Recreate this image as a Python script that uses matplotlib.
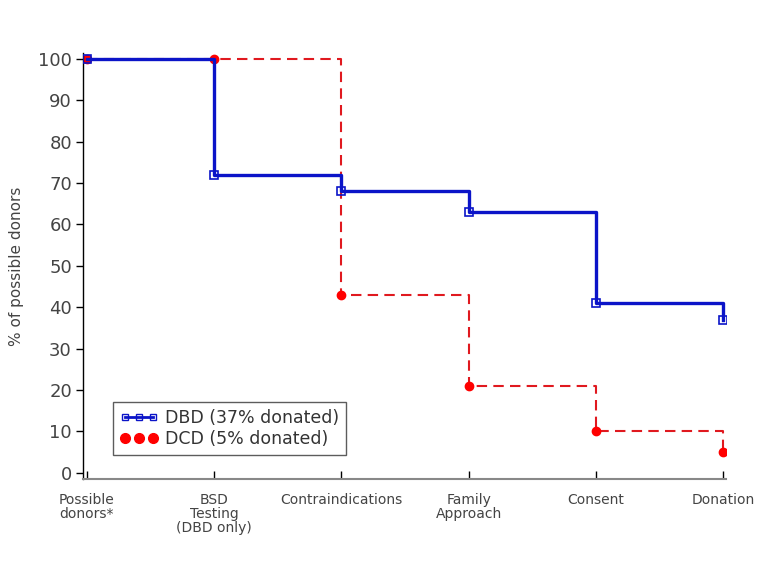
import matplotlib
matplotlib.use("Agg")
import matplotlib.pyplot as plt

stages = ["Possible\ndonors*", "BSD\nTesting\n(DBD only)", "Contraindications",
          "Family\nApproach", "Consent", "Donation"]
dbd = [100, 72, 68, 63, 41, 37]
dcd = [100, 100, 43, 21, 10, 5]
yticks = [0, 10, 20, 30, 40, 50, 60, 70, 80, 90, 100]

x = list(range(len(stages)))

fig = plt.figure(figsize=(7.63, 5.72), dpi=100)
ax = fig.add_axes([0.1088, 0.1626, 0.8427, 0.7447])

ax.plot(x, dcd, drawstyle="steps-post", color="#e0191f", lw=1.5, ls=(0, (5, 3)),
        marker="o", ms=6, mfc="#ff0000", mec="#ff0000", zorder=2)
ax.plot(x, dbd, drawstyle="steps-post", color="#0b14c8", lw=2.4,
        marker="s", ms=6, mfc="none", mec="#0b14c8", mew=1.2, zorder=3)

# legend proxies
h1, = ax.plot([], [], color="#0b14c8", lw=2, marker="s", ms=5, mfc="none",
              mec="#0b14c8", label="DBD (37% donated)")
h2, = ax.plot([], [], ls="none", marker="o", ms=7, color="#ff0000",
              label="DCD (5% donated)")
leg = ax.legend(handles=[h1, h2], loc="lower left", bbox_to_anchor=(0.047, 0.056),
                borderaxespad=0, numpoints=3, fontsize=12.5, frameon=True,
                fancybox=False, handlelength=2.2, handletextpad=0.4,
                borderpad=0.4, labelspacing=0.2, labelcolor="#333333")
leg.get_frame().set_edgecolor("#333333")
leg.get_frame().set_linewidth(1.0)

ax.set_xlim(-0.03, 5.02)
ax.set_ylim(-1.5, 101.4)
ax.set_yticks(yticks)
ax.set_yticklabels([str(v) for v in yticks], fontsize=13, color="#444444")
ax.set_xticks(x)
ax.set_xticklabels(stages, fontsize=10, color="#444444", linespacing=1.0)
ax.tick_params(axis="y", length=5, width=1, pad=3)
ax.tick_params(axis="x", length=6, width=1, pad=10, direction="in")
ax.set_ylabel("% of possible donors", fontsize=11, color="#444444", labelpad=10)

ax.spines["top"].set_visible(False)
ax.spines["right"].set_visible(False)
ax.spines["bottom"].set_color("#888888")
ax.spines["bottom"].set_linewidth(1.5)
ax.spines["left"].set_linewidth(1.0)

fig.savefig("out.png", dpi=100)
